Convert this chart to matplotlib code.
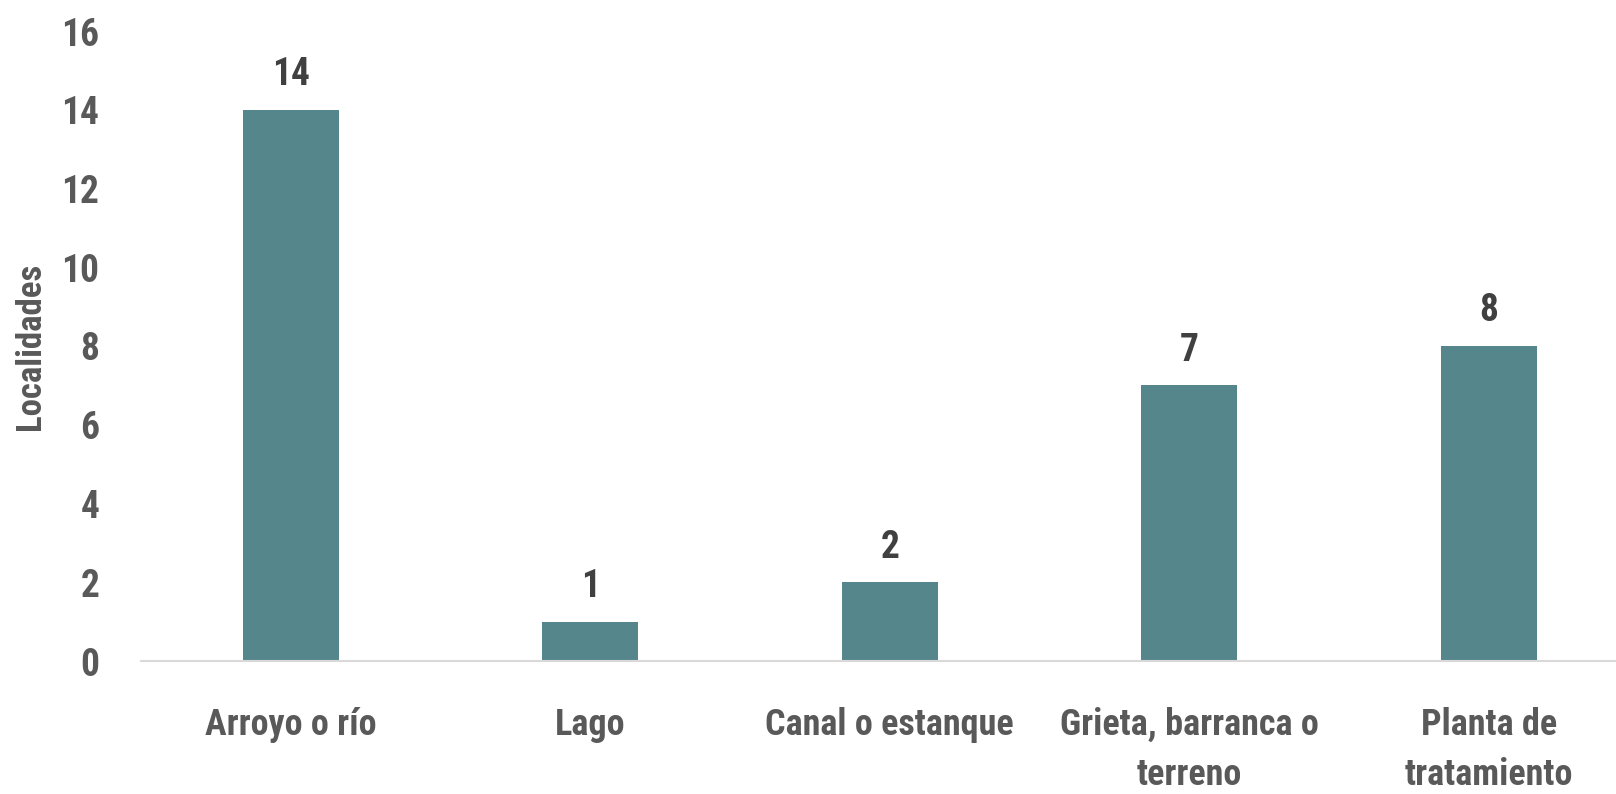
import numpy as np
from matplotlib import pyplot as plt

categorias = ['Arroyo o río', 'Lago', 'Canal o estanque', 'Grieta, barranca o\nterreno', 'Planta de\ntratamiento']
localidades = [14, 1, 2, 7, 8]

plt.rcParams['font.family'] = ['Roboto Condensed', 'DejaVu Sans']
plt.rcParams['font.stretch'] = 'condensed'
plt.rcParams['font.weight'] = 'bold'

fig = plt.figure(figsize=(16.16, 7.94), dpi=100)
ax = fig.add_axes([141/1616, 1 - 661/794, 1 - 141/1616, (661 - 31)/794])

x = np.arange(len(categorias))
bars = ax.bar(x, localidades, width=0.32, color='#55868C', zorder=2)

for b, v in zip(bars, localidades):
    ax.annotate(str(v), (b.get_x() + b.get_width()/2, v), xytext=(0, 12),
                textcoords='offset points', ha='center', va='bottom',
                fontsize=27, fontweight='bold', color='#404040')

ax.set_xlim(-0.5, -0.5 + 1475/299.5)
ax.set_ylim(0, 16)
ax.set_yticks(range(0, 17, 2))
ax.set_xticks(x)
ax.set_xticklabels(categorias, fontsize=26, color='#595959', linespacing=1.5)
ax.tick_params(axis='y', labelsize=27, labelcolor='#595959', length=0, pad=30)
ax.tick_params(axis='x', length=0, pad=33)

for s in ['top', 'right', 'left']:
    ax.spines[s].set_visible(False)
ax.spines['bottom'].set_color('#D9D9D9')
ax.spines['bottom'].set_linewidth(1.5)

fig.text(31/1616, 1 - 346/794, 'Localidades', rotation=90, ha='center', va='center',
         fontsize=25, color='#595959', fontweight='bold')

plt.savefig('out.png', dpi=100)
plt.close()
